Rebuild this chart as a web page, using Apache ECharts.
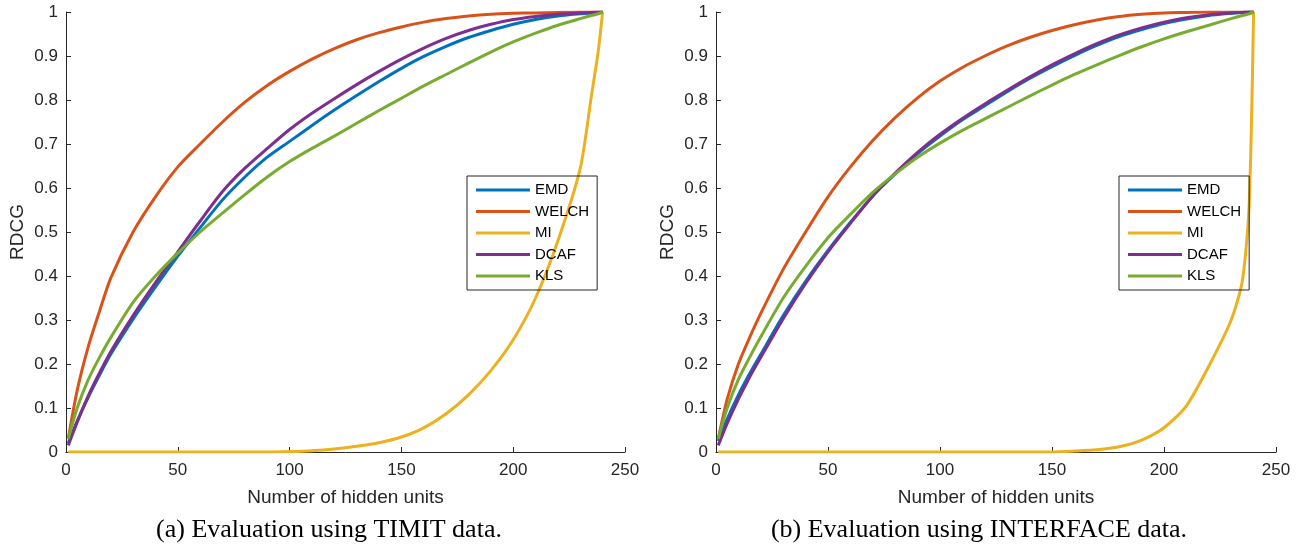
<!DOCTYPE html>
<html lang="en">

<head>
    <meta charset="UTF-8">
    <title>RDCG</title>
    <script src="https://cdn.jsdelivr.net/npm/echarts@6/dist/echarts.min.js"></script>
    <style>
        body { margin: 0; background: #fff; }
        #main { width: 1300px; height: 549px; }
    </style>
</head>

<body>
    <div id="main"></div>
    <script>
        // hidden units sampled along x
        var xs = [1, 5, 10, 15, 20, 30, 40, 50, 60, 70, 80, 90, 100, 110, 120, 130, 140, 150, 160, 170, 180, 190, 200, 210, 220, 230, 235, 238, 240];
        var names = ['EMD', 'WELCH', 'MI', 'DCAF', 'KLS'];
        var colors = ['#0072BD', '#D95319', '#EDB120', '#7E2F8E', '#77AC30'];
        var yTicks = [0, 0.1, 0.2, 0.3, 0.4, 0.5, 0.6, 0.7, 0.8, 0.9, 1];
        var xTicks = [0, 50, 100, 150, 200, 250];
        var captions = ['(a) Evaluation using TIMIT data.', '(b) Evaluation using INTERFACE data.'];

        // (a) TIMIT
        var timitEMD = [0.02, 0.07, 0.125, 0.175, 0.222, 0.302, 0.375, 0.445, 0.51, 0.573, 0.625, 0.67, 0.706, 0.742, 0.777, 0.81, 0.842, 0.872, 0.899, 0.922, 0.942, 0.958, 0.972, 0.983, 0.991, 0.996, 0.998, 0.999, 1];
        var timitWELCH = [0.03, 0.14, 0.24, 0.32, 0.395, 0.50, 0.58, 0.648, 0.70, 0.75, 0.795, 0.833, 0.865, 0.893, 0.917, 0.937, 0.953, 0.966, 0.977, 0.985, 0.991, 0.995, 0.997, 0.998, 0.999, 1, 1, 1, 1];
        var timitMI = [0, 0, 0, 0, 0, 0, 0, 0, 0, 0, 0, 0, 0.001, 0.003, 0.007, 0.013, 0.021, 0.034, 0.055, 0.087, 0.13, 0.185, 0.255, 0.35, 0.48, 0.645, 0.81, 0.91, 1];
        var timitDCAF = [0.015, 0.068, 0.128, 0.18, 0.228, 0.31, 0.385, 0.455, 0.525, 0.592, 0.645, 0.69, 0.733, 0.77, 0.803, 0.835, 0.865, 0.893, 0.918, 0.94, 0.958, 0.972, 0.983, 0.99, 0.995, 0.998, 0.999, 1, 1];
        var timitKLS = [0.03, 0.10, 0.165, 0.215, 0.26, 0.34, 0.40, 0.452, 0.50, 0.543, 0.585, 0.625, 0.66, 0.69, 0.718, 0.747, 0.776, 0.804, 0.832, 0.858, 0.884, 0.909, 0.932, 0.952, 0.97, 0.985, 0.992, 0.996, 1];

        // (b) INTERFACE
        var ifaceEMD = [0.025, 0.075, 0.13, 0.178, 0.222, 0.31, 0.388, 0.458, 0.522, 0.582, 0.632, 0.678, 0.718, 0.755, 0.787, 0.819, 0.849, 0.876, 0.901, 0.924, 0.944, 0.96, 0.974, 0.984, 0.992, 0.997, 0.999, 1, 1];
        var ifaceWELCH = [0.03, 0.12, 0.20, 0.26, 0.315, 0.415, 0.50, 0.58, 0.648, 0.708, 0.76, 0.805, 0.843, 0.874, 0.90, 0.923, 0.942, 0.958, 0.971, 0.982, 0.99, 0.995, 0.998, 0.999, 1, 1, 1, 1, 1];
        var ifaceMI = [0, 0, 0, 0, 0, 0, 0, 0, 0, 0, 0, 0, 0, 0, 0, 0, 0, 0, 0.002, 0.005, 0.012, 0.027, 0.055, 0.105, 0.195, 0.3, 0.39, 0.56, 1];
        var ifaceDCAF = [0.015, 0.065, 0.12, 0.17, 0.215, 0.303, 0.383, 0.455, 0.52, 0.582, 0.634, 0.681, 0.722, 0.758, 0.791, 0.822, 0.852, 0.88, 0.905, 0.928, 0.948, 0.964, 0.977, 0.987, 0.994, 0.998, 0.999, 1, 1];
        var ifaceKLS = [0.03, 0.10, 0.165, 0.215, 0.262, 0.35, 0.422, 0.487, 0.54, 0.59, 0.632, 0.67, 0.702, 0.731, 0.757, 0.783, 0.809, 0.834, 0.858, 0.88, 0.901, 0.921, 0.939, 0.955, 0.97, 0.985, 0.992, 0.996, 1];

        var panels = [
            [timitEMD, timitWELCH, timitMI, timitDCAF, timitKLS],
            [ifaceEMD, ifaceWELCH, ifaceMI, ifaceDCAF, ifaceKLS]
        ];

        var axisColor = '#262626';
        var sans = 'Liberation Sans';

        var myChart = echarts.init(document.getElementById('main'));

        var grids = [
            { left: 66, right: 675, top: 12, bottom: 97 },
            { left: 716, right: 24, top: 12, bottom: 97 }
        ];

        var xAxes = [], yAxes = [], series = [], legends = [], titles = [];
        [0, 1].forEach(function (p) {
            xAxes.push({
                type: 'value', gridIndex: p, min: xTicks[0], max: xTicks[xTicks.length - 1], interval: 50,
                name: 'Number of hidden units', nameLocation: 'middle', nameGap: 36,
                nameTextStyle: { fontFamily: sans, fontSize: 19, color: axisColor },
                axisLine: { lineStyle: { color: axisColor } },
                axisTick: { inside: true, length: 5, lineStyle: { color: axisColor } },
                axisLabel: { fontFamily: sans, fontSize: 17, color: axisColor, margin: 10 },
                splitLine: { show: false }
            });
            yAxes.push({
                type: 'value', gridIndex: p, min: yTicks[0], max: yTicks[yTicks.length - 1], interval: 0.1,
                name: 'RDCG', nameLocation: 'middle', nameGap: 39,
                nameTextStyle: { fontFamily: sans, fontSize: 19, color: axisColor },
                axisLine: { show: true, lineStyle: { color: axisColor } },
                axisTick: { show: true, inside: true, length: 5, lineStyle: { color: axisColor } },
                axisLabel: { fontFamily: sans, fontSize: 17, color: axisColor, margin: 8 },
                splitLine: { show: false }
            });
            names.forEach(function (n, i) {
                series.push({
                    name: n, type: 'line', xAxisIndex: p, yAxisIndex: p,
                    data: xs.map(function (x, k) { return [x, panels[p][i][k]]; }),
                    showSymbol: false, smooth: 0.25,
                    lineStyle: { width: 3, color: colors[i] },
                    itemStyle: { color: colors[i] }
                });
            });
            legends.push({
                data: names, orient: 'vertical', left: p === 0 ? 467 : 1119, top: 176,
                icon: 'rect', itemWidth: 54, itemHeight: 3, itemGap: 5.5,
                padding: [6, 8, 6, 9], borderColor: axisColor, borderWidth: 1,
                textStyle: { fontFamily: sans, fontSize: 15, color: '#000', lineHeight: 16 }
            });
            titles.push({
                text: captions[p], left: p === 0 ? 324 : 974, top: 512, textAlign: 'center',
                textStyle: { fontFamily: 'Liberation Serif', fontSize: 26, fontWeight: 'normal', color: '#000' }
            });
        });

        var option = {
            animation: false,
            color: colors,
            title: titles,
            legend: legends,
            grid: grids,
            xAxis: xAxes,
            yAxis: yAxes,
            series: series
        };

        myChart.setOption(option);
    </script>
</body>

</html>
